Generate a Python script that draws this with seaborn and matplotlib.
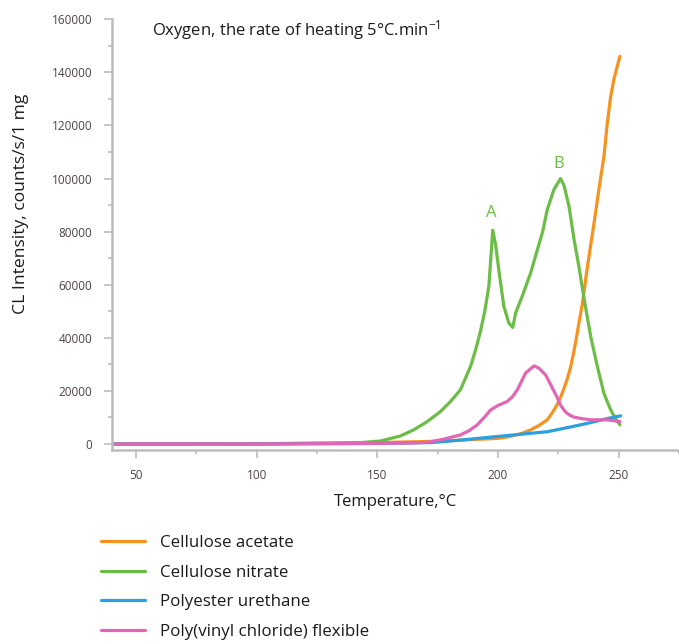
import matplotlib
matplotlib.use("Agg")
import matplotlib.pyplot as plt
from matplotlib.ticker import MultipleLocator
from matplotlib.lines import Line2D
import seaborn as sns
import pandas as pd

# Chemiluminescence intensity vs temperature (oxygen, 5 °C/min)
series_names = ["Cellulose acetate", "Cellulose nitrate",
                "Polyester urethane", "Poly(vinyl chloride) flexible"]

temp_acetate = [40, 100, 150, 175, 200, 205, 210, 213.5, 217, 220.4, 222.5,
                224.6, 226, 227.3, 228.7, 230.1, 231.2, 232.3, 233.5, 234.9,
                235.6, 236.6, 237.7, 239.8, 241.8, 243.9, 245.3, 246.7, 248,
                250.5]
cl_acetate = [0, 100, 500, 1000, 2100, 2800, 4000, 5300, 7000, 9100, 11800,
              15000, 17800, 20800, 24500, 29000, 33800, 39000, 45500, 52500,
              57000, 64000, 70700, 83300, 95900, 108400, 121000, 131000,
              137400, 146000]

temp_nitrate = [40, 100, 126, 143, 151.2, 159.5, 165, 170.6, 176.1, 180.3,
                184.4, 188.6, 190.7, 192.6, 194.5, 196.2, 197.8, 199, 200.3,
                202.4, 204.5, 206.1, 207.3, 210, 213.5, 216.3, 218.5, 220.4,
                223.2, 225.9, 227.3, 229.4, 231.5, 233.5, 235.6, 238.4, 241.2,
                243.9, 246.7, 248.5, 250.5]
cl_nitrate = [0, 0, 250, 500, 1100, 3000, 5300, 8400, 12200, 16000, 20400,
              29200, 35500, 42000, 50000, 59500, 80500, 75000, 65700, 51800,
              45500, 43900, 49400, 55600, 64400, 73200, 80000, 88300, 95900,
              100000, 97500, 89600, 77000, 66900, 55000, 40500, 29000, 19000,
              12800, 9800, 7200]

temp_urethane = [40, 100, 150, 172, 185, 199.7, 210, 220.4, 228, 234.2, 240,
                 245, 250.8]
cl_urethane = [0, 0, 200, 500, 1500, 2800, 3700, 4600, 6000, 7200, 8400,
               9500, 10600]

temp_pvc = [40, 100, 150, 165, 170.6, 177.5, 184.4, 188, 191.4, 194.5, 196.9,
            200, 203.8, 206, 208, 211.4, 214.9, 217, 219.7, 222, 224.5, 226,
            227.3, 228.5, 230, 231.5, 235, 238.4, 245.3, 250.5]
cl_pvc = [0, 0, 200, 400, 600, 1800, 3400, 5000, 7200, 10200, 12800, 14500,
          16000, 17800, 20400, 26700, 29400, 28500, 26000, 22000, 17500, 14500,
          12800, 11600, 10700, 10100, 9500, 9100, 9100, 8400]

peak_labels = ["A", "B"]
peak_label_temp = [197, 225]
peak_label_cl = [87000, 105300]

colors = ["#f7921f", "#6cbd45", "#2c9fe0", "#e166b3"]

frames = []
for name, t, v in zip(series_names,
                      [temp_acetate, temp_nitrate, temp_urethane, temp_pvc],
                      [cl_acetate, cl_nitrate, cl_urethane, cl_pvc]):
    frames.append(pd.DataFrame({"Temperature": t, "CL": v, "Material": name}))
df = pd.concat(frames, ignore_index=True)

sns.set_theme(style="white")
plt.rcParams["font.family"] = ["Open Sans", "DejaVu Sans"]
plt.rcParams["mathtext.default"] = "regular"

fig = plt.figure(figsize=(6.79, 6.42), dpi=100)
ax = fig.add_axes([0.165, 0.299, 0.835, 0.671])

palette = dict(zip(series_names, colors))
sns.lineplot(data=df, x="Temperature", y="CL", hue="Material",
             hue_order=series_names, palette=palette, linewidth=2.3,
             sort=False, estimator=None, legend=False, ax=ax)
for ln in ax.get_lines():
    ln.set_solid_joinstyle("round")
    ln.set_solid_capstyle("round")

ax.set_xlim(40, 275)
ax.set_ylim(-2300, 160000)
ax.xaxis.set_major_locator(MultipleLocator(50))
ax.xaxis.set_minor_locator(MultipleLocator(25))
ax.yaxis.set_major_locator(MultipleLocator(20000))
ax.yaxis.set_minor_locator(MultipleLocator(10000))

spine_col = "#bcbcbc"
for side in ["top", "right"]:
    ax.spines[side].set_visible(False)
for side in ["left", "bottom"]:
    ax.spines[side].set_color(spine_col)
    ax.spines[side].set_linewidth(1.8)

tick_col = "#4e4242"
ax.tick_params(axis="both", which="major", direction="out", length=6,
               width=1.2, color=spine_col, labelsize=8.5, labelcolor=tick_col)
ax.tick_params(axis="y", which="major", pad=8)
ax.tick_params(axis="x", which="major", pad=8)
ax.tick_params(axis="both", which="minor", direction="out", length=3,
               width=1.2, color=spine_col)
ax.tick_params(left=True, bottom=True, which="both")

ax.set_xlabel("Temperature,°C", fontsize=12, color="#1e1a1a", labelpad=8)
ax.set_ylabel("CL Intensity, counts/s/1 mg", fontsize=12.6, color="#1e1a1a")
ax.yaxis.set_label_coords(-0.146, 0.571)

ax.text(56.5, 155800, "Oxygen, the rate of heating 5°C.min$^{-1}$",
        fontsize=12, color="#1e1a1a", ha="left", va="center")

for lab, t, v in zip(peak_labels, peak_label_temp, peak_label_cl):
    ax.text(t, v, lab, fontsize=12, color=colors[1], ha="center", va="center")

handles = [Line2D([0], [0], color=c, linewidth=2.3) for c in colors]
fig.legend(handles, series_names, loc="upper left",
           bbox_to_anchor=(0.1395, 0.177), frameon=False, fontsize=12.2,
           handlelength=2.55, handletextpad=0.9, labelspacing=0.8,
           labelcolor="#1e1a1a", borderaxespad=0)

fig.savefig("out.png", dpi=100)
